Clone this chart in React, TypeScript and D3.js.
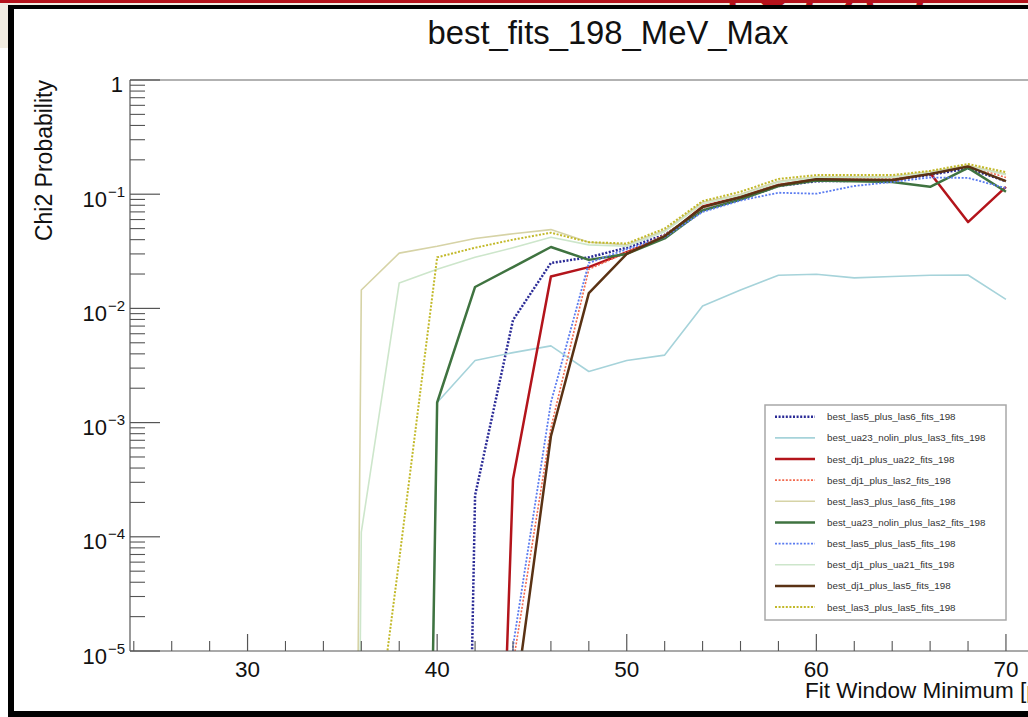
import React from "react";
import * as d3 from "d3";

const W = 1028;
const H = 717;

const xValues = [34, 36, 38, 40, 42, 44, 46, 48, 50, 52, 54, 56, 58, 60, 62, 64, 66, 68, 70];

const las5PlusLas6 = [1e-40, 1e-40, 1e-40, 1e-21, 2.3e-4, 7.9e-3, 0.025, 0.028, 0.034, 0.044, 0.072, 0.09, 0.118, 0.13, 0.131, 0.132, 0.148, 0.168, 0.13];
const ua23NolinPlusLas3 = [1e-40, 1e-40, 1e-23, 1.5e-3, 3.5e-3, 4.1e-3, 4.7e-3, 2.8e-3, 3.5e-3, 3.9e-3, 0.0105, 0.0145, 0.0195, 0.0199, 0.0185, 0.019, 0.0195, 0.0196, 0.012];
const dj1PlusUa22 = [1e-40, 1e-40, 1e-40, 1e-40, 1e-13, 3.2e-4, 0.019, 0.023, 0.031, 0.042, 0.078, 0.095, 0.12, 0.135, 0.133, 0.132, 0.153, 0.057, 0.116];
const dj1PlusLas2 = [1e-40, 1e-40, 1e-40, 1e-40, 1e-20, 7.7e-6, 9e-4, 0.022, 0.031, 0.044, 0.076, 0.095, 0.122, 0.136, 0.136, 0.136, 0.152, 0.178, 0.14];
const las3PlusLas6 = [1e-40, 0.0145, 0.0305, 0.035, 0.041, 0.045, 0.049, 0.038, 0.036, 0.048, 0.085, 0.1, 0.13, 0.142, 0.142, 0.143, 0.157, 0.178, 0.15];
const ua23NolinPlusLas2 = [1e-40, 1e-40, 1e-23, 1.5e-3, 0.0154, 0.023, 0.0345, 0.0266, 0.03, 0.041, 0.072, 0.09, 0.118, 0.132, 0.13, 0.128, 0.116, 0.17, 0.105];
const las5PlusLas5 = [1e-40, 1e-40, 1e-40, 1e-40, 1e-20, 1.1e-5, 1.5e-3, 0.025, 0.033, 0.042, 0.07, 0.088, 0.103, 0.101, 0.118, 0.128, 0.14, 0.139, 0.113];
const dj1PlusUa21 = [1e-40, 1.1e-4, 0.0167, 0.022, 0.028, 0.034, 0.042, 0.036, 0.035, 0.047, 0.082, 0.098, 0.127, 0.14, 0.14, 0.14, 0.155, 0.175, 0.148];
const dj1PlusLas5 = [1e-40, 1e-40, 1e-40, 1e-40, 1e-20, 2.6e-6, 7.6e-4, 0.0136, 0.03, 0.043, 0.077, 0.094, 0.12, 0.135, 0.134, 0.133, 0.15, 0.175, 0.13];
const las3PlusLas5 = [1e-40, 1.7e-7, 6.3e-5, 0.028, 0.034, 0.04, 0.046, 0.038, 0.037, 0.05, 0.087, 0.105, 0.136, 0.147, 0.147, 0.147, 0.16, 0.184, 0.156];

const seriesNames = [
  "best_las5_plus_las6_fits_198",
  "best_ua23_nolin_plus_las3_fits_198",
  "best_dj1_plus_ua22_fits_198",
  "best_dj1_plus_las2_fits_198",
  "best_las3_plus_las6_fits_198",
  "best_ua23_nolin_plus_las2_fits_198",
  "best_las5_plus_las5_fits_198",
  "best_dj1_plus_ua21_fits_198",
  "best_dj1_plus_las5_fits_198",
  "best_las3_plus_las5_fits_198",
];
const seriesValues = [
  las5PlusLas6, ua23NolinPlusLas3, dj1PlusUa22, dj1PlusLas2, las3PlusLas6,
  ua23NolinPlusLas2, las5PlusLas5, dj1PlusUa21, dj1PlusLas5, las3PlusLas5,
];
const seriesColors = ["#2a2a96", "#a6d3da", "#b3141b", "#f26a4f", "#d6d3a6", "#3f7340", "#5b7cf0", "#cde6cb", "#5a3214", "#c2b92a"];
const seriesWidths = [2.5, 1.6, 2.5, 1.6, 1.6, 2.5, 1.8, 1.6, 2.5, 2];
const seriesDotted = [true, false, false, true, false, false, true, false, false, true];

const yMajorExps = [0, -1, -2, -3, -4, -5];
const xMajorTicks = [30, 40, 50, 60, 70];

const titleText = "best_fits_198_MeV_Max";
const yTitle = "Chi2 Probability";
const xTitle = "Fit Window Minimum [μs]";
const headerText = "(QPA I";

const FONT = "'Liberation Sans', Arial, Helvetica, sans-serif";

export default function App() {
  const left = 130;
  const top = 80;
  const bottom = 651;
  const x = d3.scaleLinear().domain([23.8, 76]).range([left, left + (76 - 23.8) * 18.96]);
  const y = d3.scaleLog().domain([1e-5, 1]).range([bottom, top]);

  const line = d3
    .line<[number, number]>()
    .x((d) => x(d[0]))
    .y((d) => y(d[1]));

  const yMinor: number[] = [];
  for (let e = -5; e < 0; e++) for (let k = 2; k <= 9; k++) yMinor.push(k * Math.pow(10, e));
  const xMinor = d3.range(24, 77, 2).filter((v) => v % 10 !== 0);

  const legX = 765, legY = 405, legW = 241, legH = 215;
  const rowY0 = 416.7, rowStep = 21.15;

  return (
    <div style={{ position: "fixed", left: 0, top: 0, width: W, height: H, overflow: "hidden", background: "#fff" }}>
      <svg width={W} height={H} style={{ display: "block" }} fontFamily={FONT}>
        <defs>
          <clipPath id="plotclip">
            <rect x={left} y={top} width={W - left} height={bottom - top} />
          </clipPath>
          <clipPath id="headclip">
            <rect x={0} y={0} width={W} height={6} />
          </clipPath>
        </defs>
        <rect x={0} y={0} width={W} height={H} fill="#fff" />
        {/* slide header decoration */}
        <rect x={0} y={0} width={W} height={48} fill="#f2ede2" />
        <rect x={14} y={9} width={W - 14} height={39} fill="#fff" />
        <rect x={0} y={0} width={W} height={3} fill="#b5121b" />
        <g clipPath="url(#headclip)">
          <text x={728} y={7} fontSize={44} fontWeight="bold" fontStyle="italic" fill="#b5121b" letterSpacing={14}>{headerText}</text>
        </g>
        <rect x={8} y={5} width={6} height={H - 5} fill="#000" />
        <rect x={8} y={5} width={W - 8} height={4} fill="#000" />
        <rect x={8} y={711} width={W - 8} height={6} fill="#000" />

        {/* title */}
        <text x={608} y={43.5} fontSize={32.8} textAnchor="middle" fill="#111">{titleText}</text>

        {/* frame top line */}
        <line x1={left} x2={W} y1={top} y2={top} stroke="#666" strokeWidth={1.2} />

        {/* series */}
        <g clipPath="url(#plotclip)">
          {seriesValues.map((vals, i) => (
            <path
              key={seriesNames[i]}
              d={line(xValues.map((xv, j) => [xv, vals[j]] as [number, number])) || ""}
              fill="none"
              stroke={seriesColors[i]}
              strokeWidth={seriesWidths[i]}
              strokeDasharray={seriesDotted[i] ? "2 1.6" : undefined}
              strokeLinejoin="round"
            />
          ))}
        </g>

        {/* y axis */}
        <line x1={left} x2={left} y1={top} y2={bottom} stroke="#555" strokeWidth={1.2} />
        {yMajorExps.map((e) => (
          <line key={"ym" + e} x1={left} x2={left + 30} y1={y(Math.pow(10, e))} y2={y(Math.pow(10, e))} stroke="#555" strokeWidth={1.2} />
        ))}
        {yMinor.map((v, i) => (
          <line key={"yn" + i} x1={left} x2={left + 15} y1={y(v)} y2={y(v)} stroke="#555" strokeWidth={1.1} />
        ))}
        {yMajorExps.map((e) =>
          e === 0 ? (
            <text key={"yl" + e} x={123} y={y(1) + 12} fontSize={22} textAnchor="end" fill="#111">1</text>
          ) : (
            <g key={"yl" + e}>
              <text x={107} y={y(Math.pow(10, e)) + 12.5} fontSize={22} textAnchor="end" fill="#111">10</text>
              <text x={108} y={y(Math.pow(10, e)) + 2.5} fontSize={15} textAnchor="start" fill="#111">{"−" + -e}</text>
            </g>
          )
        )}
        <text transform={`translate(52,80) rotate(-90)`} fontSize={23} textAnchor="end" fill="#111">{yTitle}</text>

        {/* x axis */}
        <line x1={left} x2={W} y1={bottom} y2={bottom} stroke="#555" strokeWidth={1.2} />
        {xMajorTicks.map((v) => (
          <line key={"xm" + v} x1={x(v)} x2={x(v)} y1={bottom} y2={bottom - 17} stroke="#555" strokeWidth={1.2} />
        ))}
        {xMinor.map((v) => (
          <line key={"xn" + v} x1={x(v)} x2={x(v)} y1={bottom} y2={bottom - 10} stroke="#555" strokeWidth={1.1} />
        ))}
        {xMajorTicks.map((v) => (
          <text key={"xl" + v} x={x(v)} y={677} fontSize={22.5} textAnchor="middle" fill="#111">{v}</text>
        ))}
        <text x={805} y={698} fontSize={22.5} textAnchor="start" fill="#111">{xTitle}</text>

        {/* legend */}
        <rect x={legX} y={legY} width={legW} height={legH} fill="#fff" stroke="#a8a8a8" strokeWidth={1.5} />
        {seriesNames.map((name, i) => {
          const ry = rowY0 + i * rowStep;
          return (
            <g key={"leg" + i}>
              <line
                x1={775}
                x2={815}
                y1={ry}
                y2={ry}
                stroke={seriesColors[i]}
                strokeWidth={seriesWidths[i]}
                strokeDasharray={seriesDotted[i] ? "2 1.6" : undefined}
              />
              <text x={827} y={ry + 3.5} fontSize={9.8} fill="#333">{name}</text>
            </g>
          );
        })}
      </svg>
    </div>
  );
}
